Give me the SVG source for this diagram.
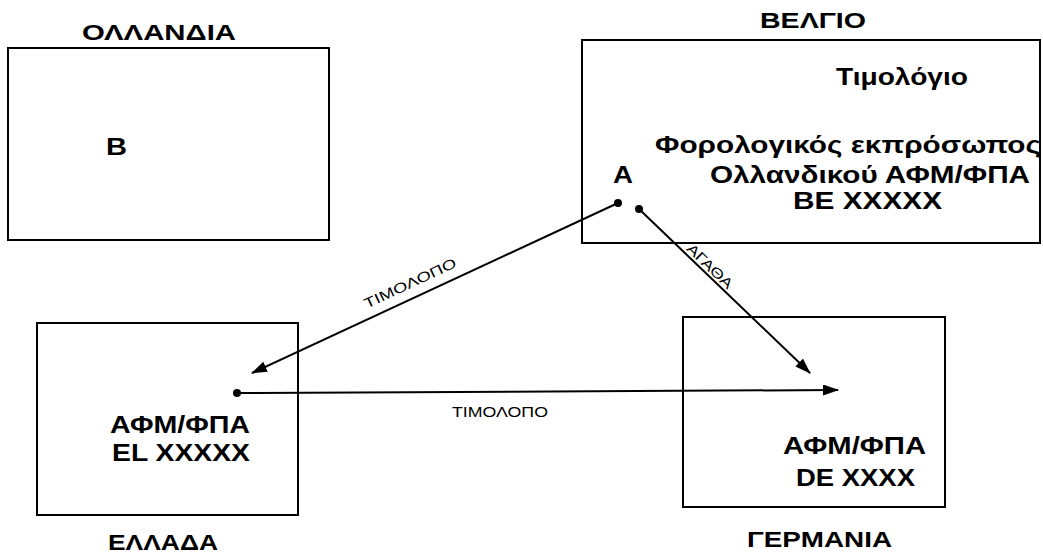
<svg xmlns="http://www.w3.org/2000/svg" width="1043" height="553" viewBox="0 0 1043 553">
<style>
.box{fill:none;stroke:#000;stroke-width:2}
.t{font-family:"Liberation Sans",Arial,sans-serif;font-weight:bold;font-size:24px;fill:#000}
.c{font-size:22px}
.lbl{font-family:"Liberation Sans",Arial,sans-serif;font-size:14px;fill:#000}
.ln{stroke:#000;stroke-width:2;fill:none}
</style>
<defs>
<marker id="arr" markerUnits="userSpaceOnUse" markerWidth="16" markerHeight="12" refX="15" refY="5.5" orient="auto">
<path d="M0,0 L16,5.5 L0,11 z" fill="#000"/>
</marker>
</defs>
<rect width="1043" height="553" fill="#fff"/>
<g id="ollandia">
<rect class="box" x="8" y="48" width="321" height="192"/>
<text class="t c" x="82" y="40" textLength="154" lengthAdjust="spacingAndGlyphs">ΟΛΛΑΝΔΙΑ</text>
<text class="t" x="106" y="155" font-size="29" textLength="21" lengthAdjust="spacingAndGlyphs">B</text>
</g>
<g id="belgio">
<rect class="box" x="582" y="40" width="458" height="203"/>
<text class="t c" x="760" y="28" textLength="106" lengthAdjust="spacingAndGlyphs">ΒΕΛΓΙΟ</text>
<text class="t" x="836" y="85" textLength="132" lengthAdjust="spacingAndGlyphs">Τιμολόγιο</text>
<text class="t" x="655" y="153" textLength="386" lengthAdjust="spacingAndGlyphs">Φορολογικός εκπρόσωπος</text>
<text class="t" x="710" y="183" textLength="320" lengthAdjust="spacingAndGlyphs">Ολλανδικού ΑΦΜ/ΦΠΑ</text>
<text class="t" x="793" y="209" textLength="149" lengthAdjust="spacingAndGlyphs">ΒΕ ΧΧΧΧΧ</text>
<text class="t" x="613" y="183" textLength="20" lengthAdjust="spacingAndGlyphs">A</text>
</g>
<g id="ellada">
<rect class="box" x="37" y="323" width="261" height="192"/>
<text class="t" x="110" y="433" textLength="140" lengthAdjust="spacingAndGlyphs">ΑΦΜ/ΦΠΑ</text>
<text class="t" x="112" y="461" textLength="138" lengthAdjust="spacingAndGlyphs">EL XXXXX</text>
<text class="t c" x="108" y="550" textLength="110" lengthAdjust="spacingAndGlyphs">ΕΛΛΑΔΑ</text>
</g>
<g id="germania">
<rect class="box" x="683" y="317" width="262" height="190"/>
<text class="t" x="783" y="454" textLength="143" lengthAdjust="spacingAndGlyphs">ΑΦΜ/ΦΠΑ</text>
<text class="t" x="796" y="486" textLength="119" lengthAdjust="spacingAndGlyphs">DE XXXX</text>
<text class="t c" x="747" y="547" textLength="145" lengthAdjust="spacingAndGlyphs">ΓΕΡΜΑΝΙΑ</text>
</g>
<g id="connectors">
<circle cx="618" cy="203" r="4"/>
<line class="ln" x1="618" y1="203" x2="252" y2="373" marker-end="url(#arr)"/>
<circle cx="639" cy="209" r="4"/>
<line class="ln" x1="639" y1="209" x2="810" y2="373" marker-end="url(#arr)"/>
<circle cx="237" cy="393" r="4"/>
<line class="ln" x1="237" y1="393" x2="838" y2="390" marker-end="url(#arr)"/>
<text class="lbl" transform="translate(410,283) rotate(-25)" x="0" y="5" text-anchor="middle" textLength="100" lengthAdjust="spacingAndGlyphs">ΤΙΜΟΛΟΠΟ</text>
<text class="lbl" transform="translate(710,266) rotate(44)" x="0" y="5" text-anchor="middle" textLength="58" lengthAdjust="spacingAndGlyphs">ΑΓΑΘΑ</text>
<text class="lbl" x="452" y="417" textLength="96" lengthAdjust="spacingAndGlyphs">ΤΙΜΟΛΟΠΟ</text>
</g>
</svg>
